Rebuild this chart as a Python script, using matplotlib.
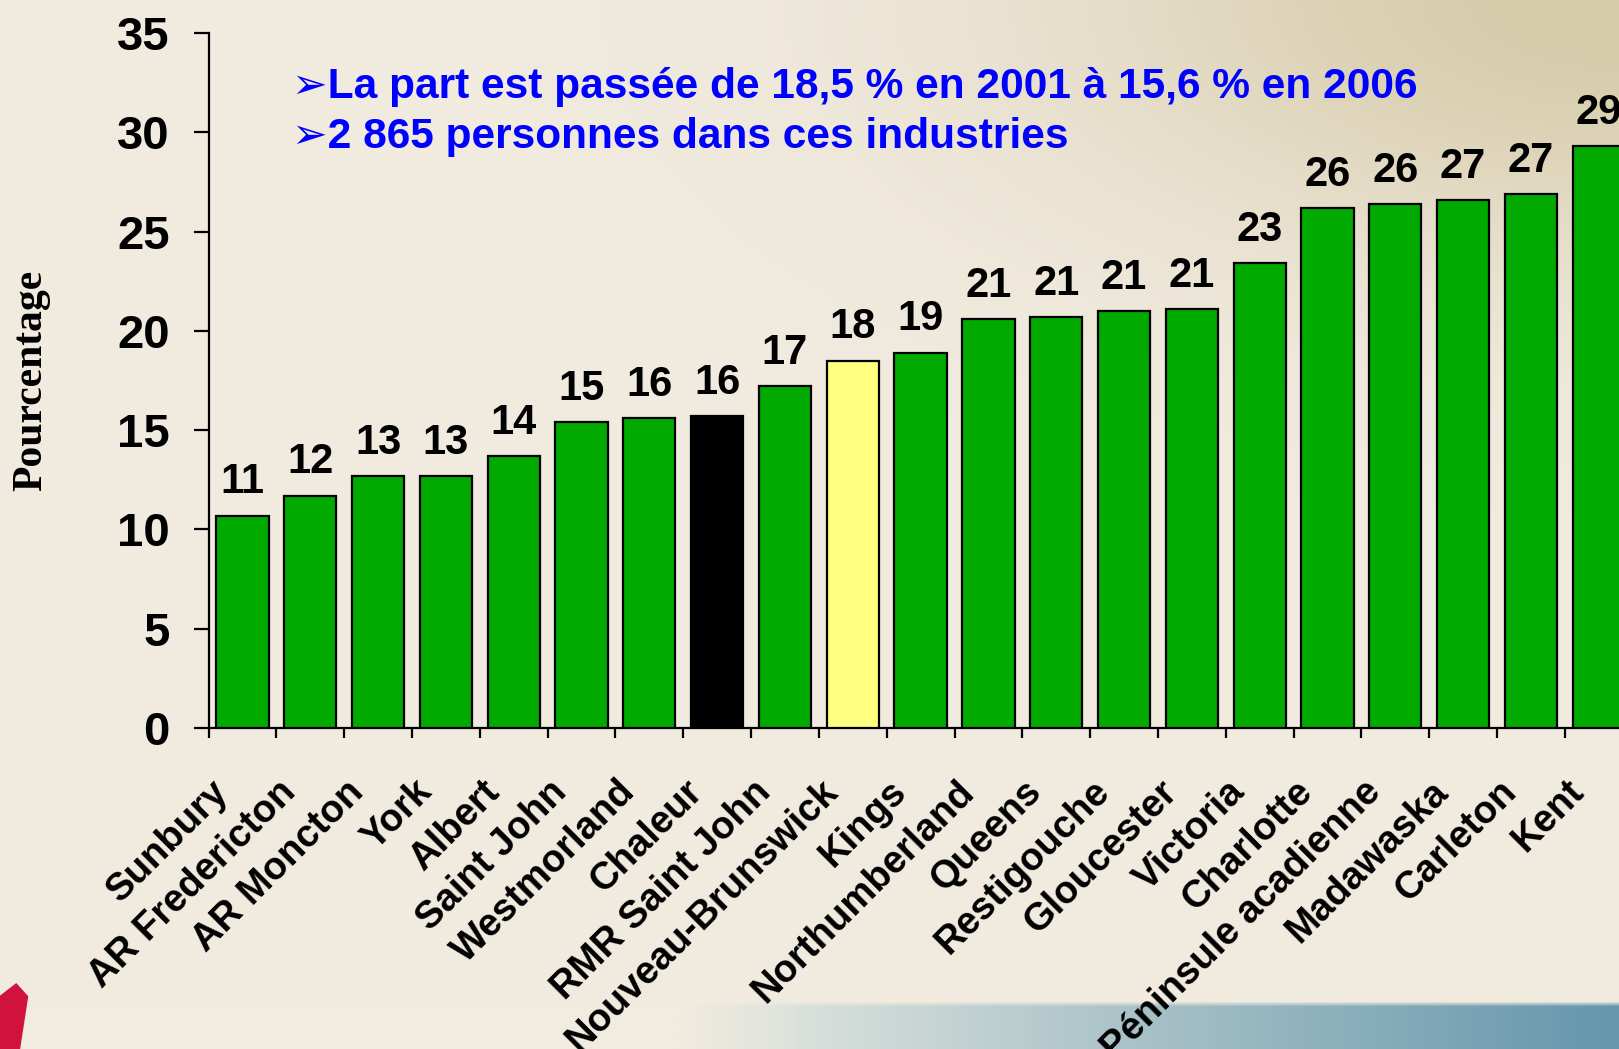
import numpy as np
import matplotlib
matplotlib.use("Agg")
import matplotlib.pyplot as plt
import matplotlib.transforms as mtransforms
from matplotlib.patches import Polygon

# data
regions = ["Sunbury", "AR Fredericton", "AR Moncton", "York", "Albert",
           "Saint John", "Westmorland", "Chaleur", "RMR Saint John",
           "Nouveau-Brunswick", "Kings", "Northumberland", "Queens",
           "Restigouche", "Gloucester", "Victoria", "Charlotte",
           "Péninsule acadienne", "Madawaska", "Carleton", "Kent"]
values = [10.7, 11.7, 12.7, 12.7, 13.7, 15.4, 15.6, 15.7, 17.2, 18.5, 18.9,
          20.6, 20.7, 21.0, 21.1, 23.4, 26.2, 26.4, 26.6, 26.9, 29.3]
value_labels = ["11", "12", "13", "13", "14", "15", "16", "16", "17", "18", "19",
                "21", "21", "21", "21", "23", "26", "26", "27", "27", "29"]
note_lines = ["➢La part est passée de 18,5 % en 2001 à 15,6 % en 2006",
              "➢2 865 personnes dans ces industries"]

GREEN = "#00AA00"
colors = [GREEN] * len(regions)
colors[regions.index("Chaleur")] = "#000000"
colors[regions.index("Nouveau-Brunswick")] = "#FFFF80"

W, H = 1619, 1049
fig = plt.figure(figsize=(W / 100, H / 100), dpi=100)

# slide background
bg_ax = fig.add_axes([0, 0, 1, 1], zorder=-10)
xs = np.linspace(0, 1, 324)
ys = np.linspace(0, 1, 210)
X, Y = np.meshgrid(xs, ys)
base = np.array([241, 235, 224]) / 255
tan = np.array([214, 203, 170]) / 255
w = np.exp(-((X - 1.0) ** 2 / 0.12 + Y ** 2 / 0.06))[..., None]
img = base * (1 - w) + tan * w
band = (Y * H > 1007)[..., None]
t = np.clip((X * W - 780) / 840, 0, 1)[..., None]
band_col = np.array([220, 226, 220]) / 255 * (1 - t) + np.array([100, 150, 172]) / 255 * t
a = np.clip((X * W - 680) / 120, 0, 1)[..., None]
band_col = base * (1 - a) + band_col * a
img = np.where(band, band_col, img)
bg_ax.imshow(img, extent=[0, 1, 0, 1], aspect="auto", interpolation="bilinear")
bg_ax.set_xlim(0, 1)
bg_ax.set_ylim(0, 1)
bg_ax.axis("off")
# red logo corner
bg_ax.add_patch(Polygon([[0, 0], [0, 0.05], [0.01, 0.062], [0.017, 0.05], [0.012, 0.0]],
                        closed=True, color="#D0123C", transform=bg_ax.transAxes))

ax = fig.add_axes([208.6 / W, (H - 728) / H, 1424 / W, 695 / H])
ax.set_facecolor("none")

x = np.arange(len(regions))
ax.bar(x, values, width=0.77, color=colors, edgecolor="black", linewidth=1.6, zorder=3)

for i, (v, lbl) in enumerate(zip(values, value_labels)):
    ax.annotate(lbl, (i, v), xytext=(0, 16), textcoords="offset points",
                ha="center", va="baseline", fontsize=30, fontweight="bold",
                family="Liberation Sans", color="black")

ax.set_xlim(-0.5, len(regions) - 0.5)
ax.set_ylim(0, 35)
ax.set_yticks(np.arange(0, 36, 5))
ax.set_yticklabels([str(v) for v in range(0, 36, 5)], fontsize=34,
                   fontweight="bold", family="Liberation Sans")
ax.tick_params(axis="y", direction="out", length=11, width=1.6, pad=17)

ax.set_xticks(np.arange(-0.5, len(regions), 1))
ax.set_xticklabels([])
ax.tick_params(axis="x", which="major", direction="out", length=7, width=1.6)
ax.set_xticks(x, minor=True)
ax.set_xticklabels(regions, minor=True, rotation=45, ha="right", va="center",
                   rotation_mode="anchor", fontsize=27.5, fontweight="bold",
                   family="Liberation Sans")
ax.tick_params(axis="x", which="minor", length=0, pad=42)
shift = mtransforms.ScaledTranslation(-0.2, 0, fig.dpi_scale_trans)
for lab in ax.get_xticklabels(minor=True):
    lab.set_transform(lab.get_transform() + shift)

for s in ["top", "right"]:
    ax.spines[s].set_visible(False)
for s in ["left", "bottom"]:
    ax.spines[s].set_linewidth(1.6)

fig.text(31 / W, 1 - 380 / H, "Pourcentage", rotation=90, ha="center", va="center",
         fontsize=30, fontweight="bold", family="Liberation Serif")

for k, line in enumerate(note_lines):
    fig.text(292 / W, 1 - (98 + 50 * k) / H, line, ha="left", va="baseline",
             fontsize=30.6, fontweight="bold", color="#0000FF",
             family=["Liberation Sans", "DejaVu Sans"])

fig.savefig("out.png", dpi=100)
